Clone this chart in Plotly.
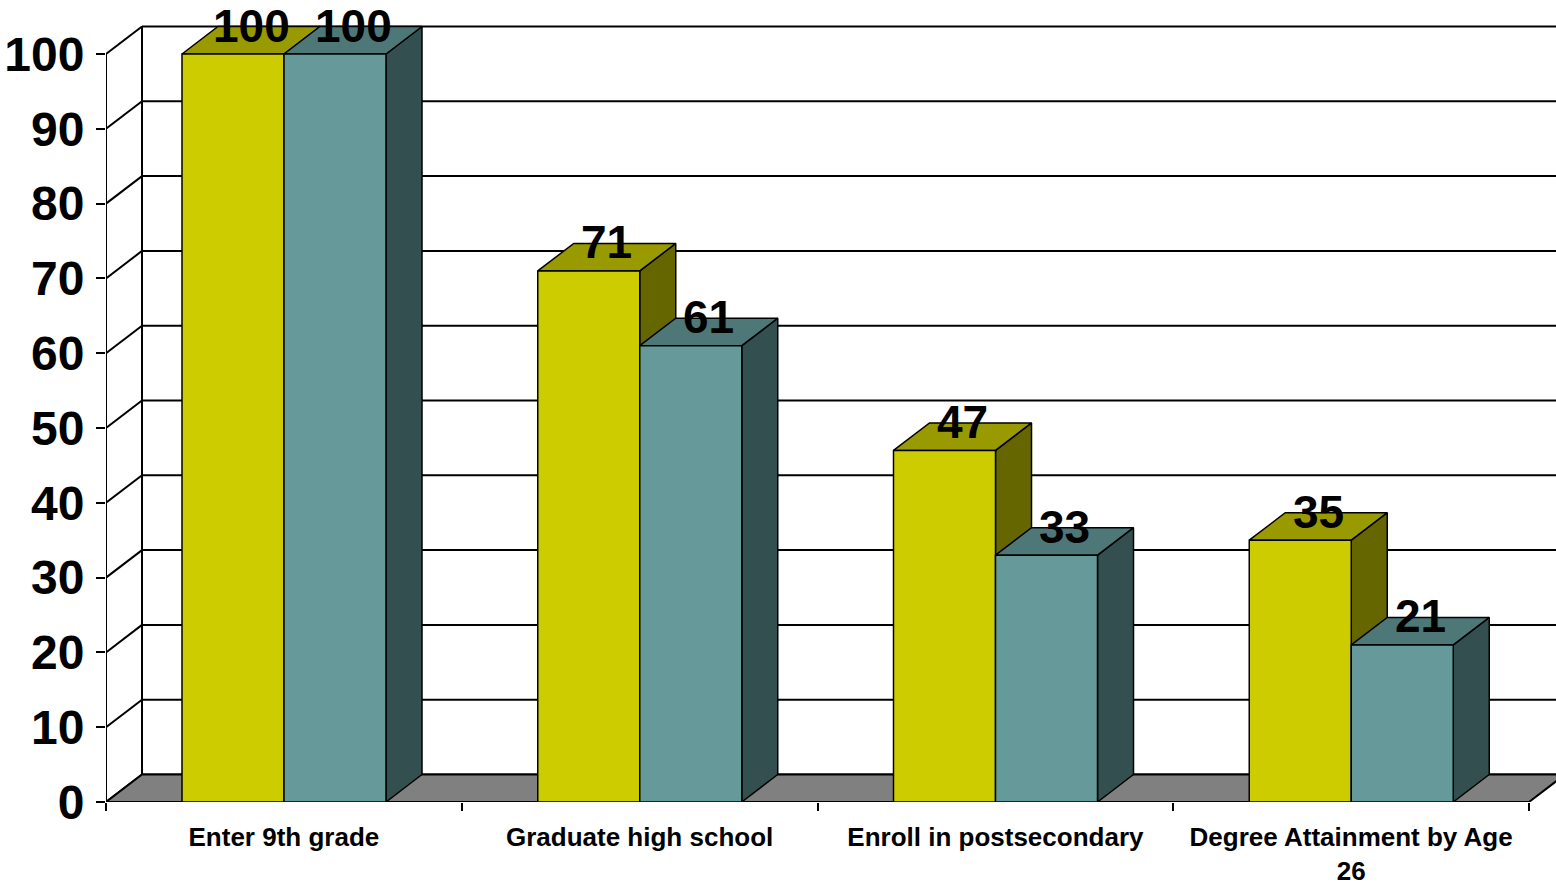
import plotly.graph_objects as go

# ---- data ----
categories = ["Enter 9th grade", "Graduate high school", "Enroll in postsecondary",
              "Degree Attainment by Age<br>26"]
series_a = [100, 71, 47, 35]   # yellow
series_b = [100, 61, 33, 21]   # teal
y_ticks = list(range(0, 101, 10))

# ---- geometry / style ----
PX_PER_CAT = 355.75
PX_PER_UNIT = 7.48
DX = 36 / PX_PER_CAT
DY = 27.5 / PX_PER_UNIT
OFF = 76 / PX_PER_CAT
W = 102 / PX_PER_CAT
XMAX = 1450 / PX_PER_CAT
YMAX = 802 / PX_PER_UNIT
NCAT = len(categories)

styles = [
    dict(front="#CCCC00", top="#999900", side="#666600"),
    dict(front="#669999", top="#4E7878", side="#334F4F"),
]

fig = go.Figure()


def poly(xs, ys, fill, lw=1.5):
    fig.add_trace(go.Scatter(
        x=xs + [xs[0]], y=ys + [ys[0]], fill="toself", fillcolor=fill,
        mode="lines", line=dict(color="black", width=lw),
        hoverinfo="skip", showlegend=False))


def lines(segs, lw=2):
    xs, ys = [], []
    for (x0, y0, x1, y1) in segs:
        xs += [x0, x1, None]
        ys += [y0, y1, None]
    fig.add_trace(go.Scatter(x=xs, y=ys, mode="lines",
                             line=dict(color="black", width=lw),
                             hoverinfo="skip", showlegend=False))


# back wall gridlines, side wall diagonals, back-left edge, front axis
segs = []
for v in y_ticks:
    segs.append((DX, v + DY, NCAT + 2 * DX, v + DY))
    segs.append((0, v, DX, v + DY))
segs.append((DX, DY, DX, y_ticks[-1] + DY))
segs.append((0, 0, 0, y_ticks[-1]))
lines(segs)

# floor
poly([0, NCAT, NCAT + DX, DX], [0, 0, DY, DY], "#808080", lw=2)

# bars
annotations = []
for i in range(NCAT):
    for s, vals in enumerate([series_a, series_b]):
        v = vals[i]
        st = styles[s]
        x0 = i + OFF + s * W
        x1 = x0 + W
        poly([x1, x1 + DX, x1 + DX, x1], [0, DY, v + DY, v], st["side"])
        poly([x0, x1, x1 + DX, x0 + DX], [v, v, v + DY, v + DY], st["top"])
        poly([x0, x1, x1, x0], [0, 0, v, v], st["front"])
        annotations.append(dict(
            x=x0 + W / 2 + DX / 2, y=v + DY, xref="x", yref="y",
            text=str(v), showarrow=False, xanchor="center", yanchor="middle",
            borderpad=0, yshift=1,
            font=dict(family="Liberation Sans, Arial",
                      size=46, color="black", weight="bold")))

fig.update_layout(
    width=1556, height=886,
    margin=dict(l=106, r=0, t=0, b=84),
    paper_bgcolor="white", plot_bgcolor="white",
    annotations=annotations,
    xaxis=dict(
        range=[0, XMAX], showgrid=False, zeroline=False, showline=False,
        tickvals=[i + 0.5 for i in range(NCAT)], ticktext=categories,
        ticks="", tickangle=0, ticklabelstandoff=17,
        tickfont=dict(family="Liberation Sans, Arial", size=26, color="black",
                      weight="bold"),
        minor=dict(tickvals=list(range(NCAT + 1)), ticks="outside", ticklen=8,
                   tickwidth=2, tickcolor="black", showgrid=False),
        fixedrange=True,
    ),
    yaxis=dict(
        range=[0, YMAX], showgrid=False, zeroline=False, showline=False,
        tickvals=y_ticks, ticks="outside", ticklen=9, tickwidth=2,
        tickcolor="black", ticklabelstandoff=2,
        tickfont=dict(family="Liberation Sans, Arial",
                      size=48, color="black", weight="bold"),
        fixedrange=True,
    ),
)

fig.write_html("out.html", config={"displayModeBar": False})
